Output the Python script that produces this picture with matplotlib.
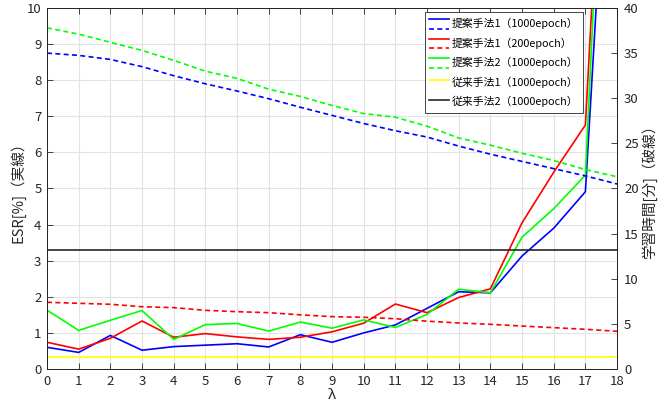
import matplotlib
matplotlib.use("Agg")
import matplotlib.pyplot as plt
from matplotlib.lines import Line2D
from matplotlib.legend_handler import HandlerBase

plt.rcParams['font.family'] = ['Noto Sans CJK JP', 'DejaVu Sans']

lam = list(range(19))

# ESR [%] (solid, left axis)
esr_p1_1000 = [0.60, 0.46, 0.93, 0.52, 0.62, 0.66, 0.70, 0.61, 0.95, 0.74,
               1.00, 1.22, 1.68, 2.14, 2.11, 3.13, 3.90, 4.91, 19.9]
esr_p1_200 = [0.74, 0.55, 0.85, 1.33, 0.88, 0.98, 0.89, 0.82, 0.88, 1.03,
              1.27, 1.80, 1.56, 1.98, 2.22, 4.05, 5.45, 6.76, 23.0]
esr_p2_1000 = [1.63, 1.07, 1.35, 1.62, 0.82, 1.23, 1.26, 1.05, 1.30, 1.13,
               1.36, 1.15, 1.51, 2.21, 2.11, 3.65, 4.44, 5.37, 23.9]
esr_c1 = [0.33] * 19
esr_c2 = [3.31] * 19

# training time [min] (dashed, right axis)
t_p1_1000 = [35.0, 34.75, 34.3, 33.5, 32.5, 31.6, 30.8, 29.95, 29.0, 28.1,
             27.2, 26.4, 25.7, 24.7, 23.8, 23.0, 22.2, 21.4, 20.5]
t_p1_200 = [7.39, 7.28, 7.17, 6.90, 6.80, 6.50, 6.35, 6.24, 6.00, 5.80,
            5.73, 5.57, 5.30, 5.10, 4.95, 4.76, 4.58, 4.40, 4.18]
t_p2_1000 = [37.8, 37.1, 36.2, 35.3, 34.2, 33.0, 32.2, 31.0, 30.2, 29.2,
             28.3, 27.9, 26.9, 25.6, 24.8, 23.9, 23.1, 22.1, 21.3]

labels = ['提案手法1（1000epoch）', '提案手法1（200epoch）', '提案手法2（1000epoch）',
          '従来手法1（1000epoch）', '従来手法2（1000epoch）']


class PairHandler(HandlerBase):
    # solid line on top, dashed line below, like the MATLAB legend
    def create_artists(self, legend, orig_handle, xdescent, ydescent,
                       width, height, fontsize, trans):
        solid, dashed = orig_handle
        x0, x1 = -xdescent, -xdescent + width
        y_top = -ydescent + height * 0.80
        y_bot = -ydescent + height * 0.15
        a = Line2D([x0, x1], [y_top, y_top], color=solid.get_color(),
                   lw=solid.get_linewidth(), ls='-', transform=trans)
        b = Line2D([x0, x1], [y_bot, y_bot], color=dashed.get_color(),
                   lw=dashed.get_linewidth(), ls=(0, (3, 2)), transform=trans)
        return [a, b]


fig = plt.figure(figsize=(6.64, 4.08), dpi=100)
ax = fig.add_axes([0.0708, 0.0956, 0.8585, 0.8848])
ax2 = ax.twinx()

lw = 1.2
dash = (0, (3, 2))
s1, = ax.plot(lam, esr_p1_1000, color='#0000ff', lw=lw)
s2, = ax.plot(lam, esr_p1_200, color='#ff0000', lw=lw)
s3, = ax.plot(lam, esr_p2_1000, color='#00ff00', lw=lw)
s4, = ax.plot(lam, esr_c1, color='#ffff00', lw=lw)
s5, = ax.plot(lam, esr_c2, color='#262626', lw=lw)

d1, = ax2.plot(lam, t_p1_1000, color='#0000ff', lw=lw, ls=dash)
d2, = ax2.plot(lam, t_p1_200, color='#ff0000', lw=lw, ls=dash)
d3, = ax2.plot(lam, t_p2_1000, color='#00ff00', lw=lw, ls=dash)

ax.set_xlim(0, 18)
ax.set_ylim(0, 10)
ax2.set_ylim(0, 40)
ax.set_xticks(range(0, 19))
ax.set_yticks(range(0, 11))
ax2.set_yticks(range(0, 41, 5))

ax.grid(True, color='#e3e3e3', lw=0.8)
ax.set_axisbelow(True)

for a in (ax, ax2):
    a.tick_params(direction='in', length=4, width=0.6, colors='#262626',
                  labelsize=9.5)
    for sp in a.spines.values():
        sp.set_color('#262626')
        sp.set_linewidth(0.7)
ax.tick_params(top=True, pad=4)
ax2.tick_params(pad=5)

ax.set_xlabel('λ', fontsize=10.5, labelpad=0, color='#262626')
ax.set_ylabel('ESR[%]（実線）', fontsize=10.5, labelpad=1, color='#262626')
ax2.set_ylabel('学習時間[分]（破線）', fontsize=10.5, labelpad=2, color='#262626')

handles = [(s1, d1), (s2, d2), (s3, d3), s4, s5]
leg = ax2.legend(handles, labels, loc='upper right',
                 bbox_to_anchor=(0.94, 0.989), borderaxespad=0,
                 handler_map={tuple: PairHandler()},
                 fontsize=7.8, handlelength=1.8, handleheight=1.7,
                 labelspacing=0.45, handletextpad=0.3, borderpad=0.4,
                 fancybox=False, framealpha=1.0, edgecolor='#262626')
leg.get_frame().set_linewidth(0.6)

fig.savefig('out.png', dpi=100)
